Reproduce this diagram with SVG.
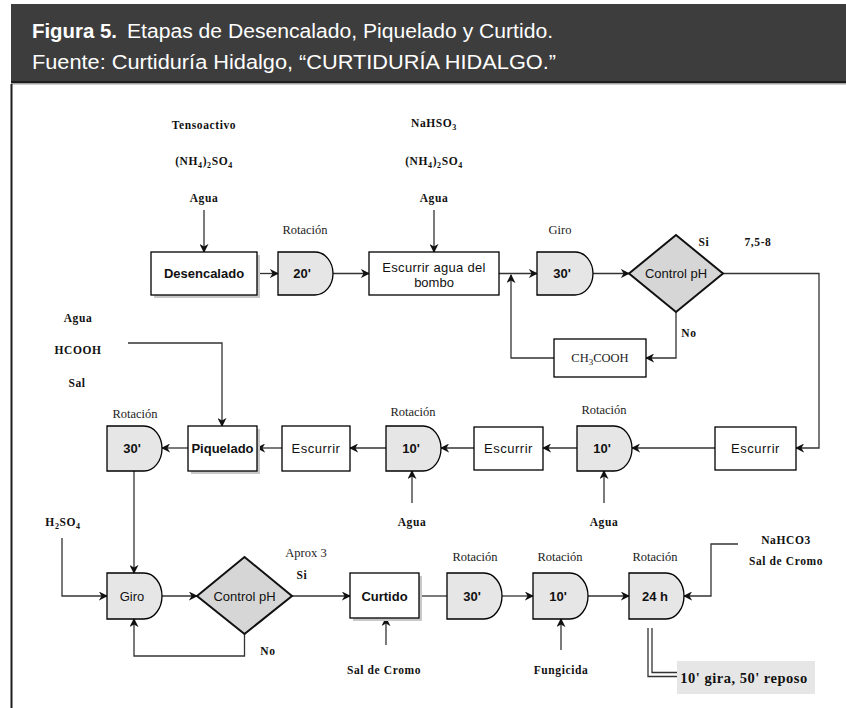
<svg xmlns="http://www.w3.org/2000/svg" width="846" height="708" viewBox="0 0 846 708">
<defs>
<style>
.box{fill:#fff;stroke:#000;stroke-width:1.3}
.shd{fill:#c8c8c8}
.dly{fill:#e6e6e6;stroke:#000;stroke-width:1.3}
.dia{fill:#d6d6d6;stroke:#111;stroke-width:2}
.con{fill:none;stroke:#333;stroke-width:1.3}
.arr{marker-end:url(#ah)}
.lb{font-family:"Liberation Serif",serif;font-weight:bold;font-size:11.5px;letter-spacing:0.6px;text-anchor:middle;fill:#111}
.rt{font-family:"Liberation Serif",serif;font-size:12.5px;text-anchor:middle;fill:#222}
.nd{font-family:"Liberation Sans",Arial,sans-serif;font-size:13px;text-anchor:middle;fill:#111}
.b{font-weight:bold}
.hd{font-family:"Liberation Sans Narrow","Liberation Sans",sans-serif;font-size:20px;fill:#fff}
.nt{font-family:"Liberation Serif",serif;font-weight:bold;font-size:14.5px;letter-spacing:0.5px;text-anchor:middle;fill:#111}
</style>
<marker id="ah" viewBox="0 0 10 10" refX="9" refY="5" markerWidth="9" markerHeight="9" markerUnits="userSpaceOnUse" orient="auto">
<path d="M0,0 L10,5 L0,10 L3,5 Z" fill="#111"/>
</marker>
</defs>
<rect width="846" height="708" fill="#fff"/>
<g id="header">
<rect x="11" y="4" width="835" height="80" fill="#3d3d3d"/>
<rect x="11" y="81" width="835" height="2" fill="#1e1e1e"/>
<rect x="11" y="83" width="835" height="1.5" fill="#a0a0a0"/>
<text class="hd" x="32" y="38" font-weight="bold" textLength="85" lengthAdjust="spacingAndGlyphs">Figura 5.</text>
<text class="hd" x="127" y="38" textLength="426" lengthAdjust="spacingAndGlyphs">Etapas de Desencalado, Piquelado y Curtido.</text>
<text class="hd" x="32" y="69" textLength="524" lengthAdjust="spacingAndGlyphs">Fuente: Curtiduría Hidalgo, “CURTIDURÍA HIDALGO.”</text>
</g>
<rect x="10.5" y="84" width="2" height="624" fill="#1e1e1e"/>

<g id="connectors">
<path class="con arr" d="M204,210 V252"/>
<path class="con arr" d="M257,273.5 H278"/>
<path class="con arr" d="M333,273.5 H369"/>
<path class="con arr" d="M434,210 V252"/>
<path class="con arr" d="M499,273.5 H537"/>
<path class="con arr" d="M593,273.5 H629"/>
<path class="con arr" d="M723,273.5 H819 V448 H796"/>
<path class="con arr" d="M676,312 V358 H646"/>
<path class="con arr" d="M554,358 H511 V275"/>
<path class="con arr" d="M715,448 H632"/>
<path class="con arr" d="M577,448 H543"/>
<path class="con arr" d="M474,448 H441"/>
<path class="con arr" d="M386,448 H350"/>
<path class="con arr" d="M282,448 H257"/>
<path class="con arr" d="M188,448 H162"/>
<path class="con arr" d="M128,343 H222 V426"/>
<path class="con arr" d="M412,503 V471"/>
<path class="con arr" d="M604,503 V471"/>
<path class="con arr" d="M134,471 V573"/>
<path class="con arr" d="M62,538 V596 H107"/>
<path class="con arr" d="M162,596 H197"/>
<path class="con arr" d="M244.5,634 V656 H134 V619"/>
<path class="con arr" d="M292,596 H350"/>
<path class="con arr" d="M386,645 V618"/>
<path class="con" d="M419,596 H447"/>
<path class="con arr" d="M502,596 H533"/>
<path class="con arr" d="M588,596 H629"/>
<path class="con arr" d="M561,650 V619"/>
<path class="con arr" d="M738,544 H711 V596 H684"/>
<path class="con" d="M648,628 V676.5 H677"/>
<path class="con" d="M652,628 V672.5 H677"/>
</g>

<g id="labels">
<text class="lb" x="204" y="129">Tensoactivo</text>
<text class="lb" x="204" y="165">(NH<tspan font-size="8" dy="3">4</tspan><tspan dy="-3">)</tspan><tspan font-size="8" dy="3">2</tspan><tspan dy="-3">SO</tspan><tspan font-size="8" dy="3">4</tspan></text>
<text class="lb" x="204" y="202">Agua</text>
<text class="lb" x="434" y="127">NaHSO<tspan font-size="8" dy="3">3</tspan></text>
<text class="lb" x="434" y="165">(NH<tspan font-size="8" dy="3">4</tspan><tspan dy="-3">)</tspan><tspan font-size="8" dy="3">2</tspan><tspan dy="-3">SO</tspan><tspan font-size="8" dy="3">4</tspan></text>
<text class="lb" x="434" y="202">Agua</text>
<text class="rt" x="305" y="234">Rotación</text>
<text class="rt" x="560" y="234">Giro</text>
<text class="lb" x="704" y="246">Si</text>
<text class="lb" x="758" y="246">7,5-8</text>
<text class="lb" x="689" y="337">No</text>
<text class="lb" x="78" y="322">Agua</text>
<text class="lb" x="78" y="354">HCOOH</text>
<text class="lb" x="77" y="387">Sal</text>
<text class="rt" x="135" y="418">Rotación</text>
<text class="rt" x="413" y="416">Rotación</text>
<text class="rt" x="604" y="414">Rotación</text>
<text class="lb" x="412" y="526">Agua</text>
<text class="lb" x="604" y="526">Agua</text>
<text class="lb" x="63" y="526">H<tspan font-size="8" dy="3">2</tspan><tspan dy="-3">SO</tspan><tspan font-size="8" dy="3">4</tspan></text>
<text class="rt" x="306" y="557">Aprox 3</text>
<text class="lb" x="302" y="579">Si</text>
<text class="lb" x="268" y="655">No</text>
<text class="lb" x="384" y="674">Sal de Cromo</text>
<text class="rt" x="475" y="561">Rotación</text>
<text class="rt" x="560" y="561">Rotación</text>
<text class="rt" x="655" y="561">Rotación</text>
<text class="lb" x="561" y="674">Fungicida</text>
<text class="lb" x="786" y="544">NaHCO3</text>
<text class="lb" x="786" y="565">Sal de Cromo</text>
</g>

<g id="desencalado">
<rect class="shd" x="154" y="255" width="106" height="43"/>
<rect class="box" x="151" y="252" width="106" height="43"/>
<text class="nd b" x="204" y="278">Desencalado</text>
</g>
<g id="rot20">
<path class="dly" d="M278,252 H315 A18,21.5 0 0 1 315,295 H278 Z"/>
<text class="nd b" x="302" y="278">20'</text>
</g>
<g id="escurrir-agua">
<rect class="box" x="369" y="252" width="130" height="43"/>
<text class="nd" x="434" y="272" style="letter-spacing:0.3px">Escurrir agua del</text>
<text class="nd" x="434" y="287">bombo</text>
</g>
<g id="giro30">
<path class="dly" d="M537,252 H575 A18,21.5 0 0 1 575,295 H537 Z"/>
<text class="nd b" x="562" y="278">30'</text>
</g>
<g id="control-ph-1">
<path class="dia" d="M629,273.5 L676,235 L723,273.5 L676,312 Z"/>
<text class="nd" x="676" y="278">Control pH</text>
</g>
<g id="ch3cooh">
<rect class="box" x="554" y="339" width="92" height="38"/>
<text class="rt" x="600" y="362">CH<tspan font-size="9" dy="3">3</tspan><tspan dy="-3">COOH</tspan></text>
</g>

<g id="rot30-m">
<path class="dly" d="M107,426 H144 A18,22.5 0 0 1 144,471 H107 Z"/>
<text class="nd b" x="132" y="453">30'</text>
</g>
<g id="piquelado">
<rect class="shd" x="191" y="429" width="69" height="45"/>
<rect class="box" x="188" y="426" width="69" height="45"/>
<text class="nd b" x="222.5" y="453">Piquelado</text>
</g>
<g id="escurrir-1">
<rect class="box" x="282" y="426" width="68" height="45"/>
<text class="nd" x="316" y="453" style="letter-spacing:0.5px">Escurrir</text>
</g>
<g id="rot10-a">
<path class="dly" d="M386,426 H423 A18,22.5 0 0 1 423,471 H386 Z"/>
<text class="nd b" x="411" y="453">10'</text>
</g>
<g id="escurrir-2">
<rect class="box" x="474" y="427" width="69" height="43"/>
<text class="nd" x="508.5" y="453" style="letter-spacing:0.5px">Escurrir</text>
</g>
<g id="rot10-b">
<path class="dly" d="M577,426 H614 A18,22.5 0 0 1 614,471 H577 Z"/>
<text class="nd b" x="602" y="453">10'</text>
</g>
<g id="escurrir-3">
<rect class="box" x="715" y="427" width="81" height="43"/>
<text class="nd" x="755.5" y="453" style="letter-spacing:0.5px">Escurrir</text>
</g>

<g id="giro-b">
<path class="dly" d="M107,573 H144 A18,23 0 0 1 144,619 H107 Z"/>
<text class="nd" x="132" y="601">Giro</text>
</g>
<g id="control-ph-2">
<path class="dia" d="M197,596 L244.5,557 L292,596 L244.5,634 Z"/>
<text class="nd" x="244.5" y="601">Control pH</text>
</g>
<g id="curtido">
<rect class="shd" x="353" y="576" width="69" height="45"/>
<rect class="box" x="350" y="573" width="69" height="45"/>
<text class="nd b" x="384.5" y="601">Curtido</text>
</g>
<g id="rot30-b">
<path class="dly" d="M447,573 H484 A18,23 0 0 1 484,619 H447 Z"/>
<text class="nd b" x="472" y="601">30'</text>
</g>
<g id="rot10-c">
<path class="dly" d="M533,573 H570 A18,23 0 0 1 570,619 H533 Z"/>
<text class="nd b" x="558" y="601">10'</text>
</g>
<g id="rot24h">
<path class="dly" d="M629,573 H666 A18,23 0 0 1 666,619 H629 Z"/>
<text class="nd b" x="655" y="601">24 h</text>
</g>
<g id="nota">
<rect x="677" y="661" width="138" height="33" fill="#e6e6e6"/>
<text class="nt" x="744" y="683">10' gira, 50' reposo</text>
</g>
</svg>
